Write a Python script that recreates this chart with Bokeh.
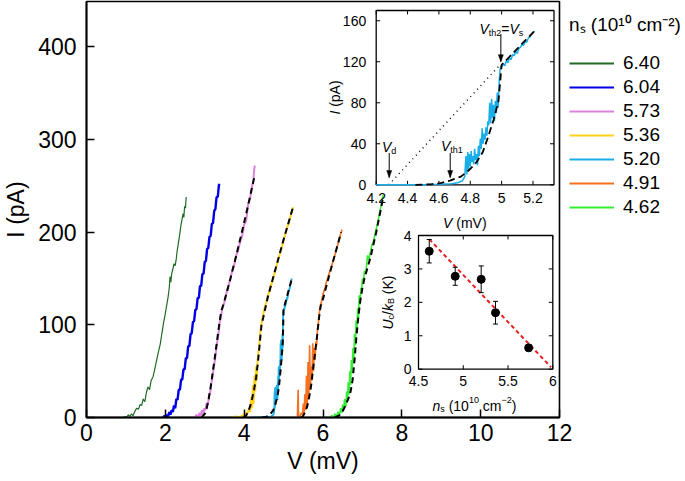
import math
from bokeh.plotting import figure
from bokeh.models import Range1d, Label, Legend, LegendItem
from bokeh.core.properties import value
from bokeh.embed import file_html
from bokeh.resources import INLINE

FONT = "Liberation Sans"

# ---------------- data ----------------
ns_labels = ["6.40", "6.04", "5.73", "5.36", "5.20", "4.91", "4.62"]
colors = ["#1f6b24", "#0000e6", "#dd82dd", "#ffd11a", "#19aee8", "#f5701f", "#33ee33"]
legend_title = "n\u209b (10\u00b9\u2070 cm\u207b\u00b2)"

v640 = [0.93, 0.98, 1.02, 1.06, 1.10, 1.14, 1.18, 1.22, 1.27, 1.32, 1.36, 1.40, 1.44, 1.48, 1.52, 1.56,
        1.60, 1.64, 1.69, 1.73, 1.78, 1.82, 1.87, 1.91, 1.95, 1.99, 2.03, 2.07, 2.10, 2.12, 2.14, 2.16,
        2.19, 2.22, 2.25, 2.28, 2.30, 2.33, 2.36, 2.39, 2.42, 2.45, 2.47, 2.49, 2.51, 2.53]
i640 = [0, 1, 0, 3, 1, 4, 2, 6, 10, 9, 14, 13, 20, 17, 27, 33,
        30, 40, 44, 52, 62, 70, 79, 90, 101, 110, 120, 130, 140, 152, 146, 155,
        160, 166, 164, 172, 180, 188, 196, 206, 213, 220, 216, 228, 226, 238]

v604 = [1.95, 1.98, 2.01, 2.04, 2.07, 2.10, 2.13, 2.16, 2.19, 2.22, 2.25, 2.28, 2.31, 2.34, 2.37, 2.40,
        2.43, 2.46, 2.49, 2.52, 2.55, 2.58, 2.61, 2.64, 2.67, 2.70, 2.73, 2.76, 2.79, 2.82, 2.85, 2.88,
        2.91, 2.94, 2.97, 3.00, 3.03, 3.06, 3.09, 3.12, 3.15, 3.18, 3.21, 3.24, 3.27, 3.30, 3.33, 3.36, 3.38]
i604 = [0, 2, 0, 3, 1, 6, 3, 8, 6, 13, 10, 20, 19, 30, 30, 41,
        41, 52, 52, 64, 64, 77, 77, 90, 91, 103, 104, 116, 117, 129, 129, 142,
        142, 155, 155, 168, 169, 182, 183, 195, 196, 209, 210, 223, 225, 238, 238, 251, 252]

v573 = [2.75, 2.79, 2.83, 2.87, 2.90, 2.93, 2.96, 2.99, 3.02, 3.05, 3.08, 3.11, 3.14, 3.17, 3.20, 3.23,
        3.26, 3.29, 3.32, 3.35, 3.38, 3.41, 3.44, 3.48, 3.52, 3.56, 3.60, 3.65, 3.70, 3.75, 3.80, 3.85,
        3.90, 3.95, 4.00, 4.05, 4.10, 4.15, 4.20, 4.23, 4.25, 4.27]
i573 = [0, 3, 0, 5, 2, 8, 3, 10, 8, 16, 14, 24, 27, 38, 45, 55,
        62, 73, 83, 90, 103, 108, 117, 122, 128, 136, 142, 150, 159, 165, 175, 181,
        190, 196, 208, 212, 230, 236, 250, 254, 266, 272]
v573_fit = [2.92, 3.00, 3.05, 3.10, 3.15, 3.20, 3.25, 3.30, 3.35, 3.40, 3.43, 3.50, 3.64, 3.80, 3.975, 4.10, 4.27]
i573_fit = [0, 4, 10, 20, 33, 48, 63, 79, 95, 110, 116, 126, 148, 175, 206, 229, 262]

v536 = [3.72, 3.80, 3.88, 3.95, 4.00, 4.04, 4.08, 4.12, 4.15, 4.18, 4.20, 4.22, 4.24, 4.26, 4.28, 4.30,
        4.32, 4.34, 4.36, 4.38, 4.40, 4.42, 4.44, 4.46, 4.50, 4.55, 4.60, 4.65, 4.70, 4.75, 4.80, 4.85,
        4.90, 4.95, 5.00, 5.05, 5.10, 5.15, 5.20, 5.24]
i536 = [0, 1, 0, 2, 3, 5, 4, 10, 6, 22, 10, 35, 15, 45, 28, 55,
        40, 62, 70, 76, 88, 95, 101, 106, 115, 123, 131, 138, 145, 153, 160, 168,
        176, 183, 191, 199, 206, 213, 221, 227]
v536_fit = [3.98, 4.05, 4.10, 4.15, 4.20, 4.25, 4.30, 4.35, 4.40, 4.44, 4.48, 4.60, 4.80, 5.00, 5.24]
i536_fit = [0, 2, 6, 12, 20, 30, 42, 60, 82, 100, 107, 130, 161, 192, 227]

v520 = [4.20, 4.30, 4.40, 4.50, 4.60, 4.68, 4.72, 4.75, 4.765, 4.772, 4.778, 4.784, 4.789, 4.795, 4.800,
        4.806, 4.810, 4.816, 4.822, 4.828, 4.834, 4.840, 4.846, 4.852, 4.858, 4.864, 4.870, 4.876, 4.882,
        4.888, 4.894, 4.900, 4.906, 4.912, 4.918, 4.924, 4.930, 4.936, 4.942, 4.948, 4.954, 4.960, 4.966,
        4.972, 4.978, 4.984, 4.990, 4.995, 5.000, 5.010, 5.020, 5.030, 5.040, 5.050, 5.060, 5.070, 5.080,
        5.090, 5.100, 5.110, 5.120, 5.130, 5.140, 5.150, 5.160, 5.170, 5.180, 5.190, 5.210]
i520 = [0, 0, 0, 0, 0.5, 1, 2, 4, 8, 28, 10, 32, 14, 30, 18,
        33, 22, 28, 20, 35, 24, 30, 19, 38, 28, 45, 35, 55, 40,
        50, 44, 56, 48, 62, 58, 80, 60, 84, 65, 78, 62, 82, 70,
        90, 75, 100, 112, 116, 115, 118, 116, 121, 119, 124, 122, 127, 126,
        130, 128, 133, 134, 137, 136, 140, 139, 143, 144, 147, 150]
v520_fit = [4.45, 4.55, 4.61, 4.67, 4.74, 4.79, 4.84, 4.88, 4.91, 4.95, 4.98, 4.995, 5.00, 5.21]
i520_fit = [0, 0.5, 1.6, 4, 8, 14, 22, 32, 45, 64, 82, 108, 117, 150]

v491 = [5.35, 5.37, 5.38, 5.42, 5.45, 5.48, 5.50, 5.52, 5.54, 5.56, 5.58, 5.60, 5.62, 5.64, 5.66, 5.68,
        5.70, 5.72, 5.74, 5.76, 5.78, 5.80, 5.82, 5.84, 5.86, 5.88, 5.90, 5.92, 5.94, 5.96, 6.00, 6.05,
        6.10, 6.15, 6.20, 6.25, 6.30, 6.35, 6.40, 6.44, 6.48]
i491 = [0, 30, 0, 2, 5, 3, 15, 4, 25, 8, 45, 12, 60, 20, 78, 30,
        55, 40, 80, 50, 75, 62, 82, 78, 95, 100, 110, 118, 122, 125, 133, 140,
        148, 155, 161, 168, 175, 183, 190, 197, 203]
v491_fit = [5.45, 5.50, 5.55, 5.60, 5.65, 5.70, 5.75, 5.80, 5.85, 5.90, 5.94, 6.00, 6.20, 6.46]
i491_fit = [0, 2, 6, 12, 22, 35, 53, 70, 88, 108, 120, 128, 160, 200]

v462 = [6.17, 6.22, 6.27, 6.30, 6.34, 6.38, 6.42, 6.45, 6.48, 6.50, 6.52, 6.55, 6.58, 6.60, 6.62, 6.64,
        6.66, 6.68, 6.70, 6.72, 6.74, 6.76, 6.78, 6.80, 6.82, 6.84, 6.86, 6.88, 6.90, 6.92, 6.94, 6.96,
        6.98, 7.00, 7.02, 7.05, 7.08, 7.10, 7.13, 7.16, 7.20, 7.24, 7.28, 7.32, 7.36, 7.40, 7.44, 7.48, 7.52]
i462 = [0, 2, 0, 4, 1, 6, 3, 10, 5, 14, 8, 20, 12, 28, 18, 38,
        25, 50, 35, 62, 48, 75, 60, 90, 78, 105, 95, 118, 108, 132, 122, 140,
        138, 150, 144, 158, 155, 162, 175, 170, 178, 186, 190, 198, 205, 213, 222, 230, 240]
v462_fit = [6.30, 6.40, 6.45, 6.50, 6.55, 6.60, 6.65, 6.70, 6.75, 6.80, 6.85, 6.90, 6.95, 7.00, 7.05, 7.20, 7.35, 7.52]
i462_fit = [0, 2, 4, 7, 11, 16, 21, 28, 40, 62, 88, 110, 127, 140, 150, 172, 200, 236]

main_xlim = 12
main_xticks = [0, 2, 4, 6, 8, 10, 12]
main_yticks = [0, 100, 200, 300, 400]

# inset 1 (V-I of the 5.20 curve)
in1_xticks = [4.2, 4.4, 4.6, 4.8, 5.0, 5.2]
in1_xlabels = ["4.2", "4.4", "4.6", "4.8", "5", "5.2"]
in1_yticks = [0, 40, 80, 120, 160]
dot_v = [4.28, 4.99]
dot_i = [0, 117]
arrow_v = [4.283, 4.672, 4.995]
arrow_tail = [31, 31, 147]
arrow_tip = [7, 7, 120]

# inset 2 (Uc/kB vs ns)
ns_pts = [4.62, 4.91, 5.20, 5.36, 5.73]
uc_pts = [3.53, 2.78, 2.69, 1.69, 0.64]
uc_err = [0.35, 0.27, 0.40, 0.34, 0.09]
ns_fit = [4.62, 5.98]
uc_fit = [3.89, 0.06]
in2_xticks = [4.5, 5.0, 5.5, 6.0]
in2_xlabels = ["4.5", "5", "5.5", "6"]
in2_yticks = [0, 1, 2, 3, 4]

# ---------------- geometry helpers ----------------
W, H = 685, 481
FL, FT = 83, 1
FB = 417                      # frame bottom (px)
FW = 473                      # frame = the main axes box (0..12 mV)
FH = FB - FT
PXX = FW / 12.0               # px per mV
PXY = 0.9265                  # px per pA
Y_END = FH / PXY


def dx(px):
    return (px - FL) / PXX


def dy(py):
    return (FB - py) / PXY


ADV = {'0': 556, '1': 556, '2': 556, '3': 556, '4': 556, '5': 556, '6': 556, '7': 556, '8': 556, '9': 556,
       '.': 278, ' ': 278, '(': 333, ')': 333, 'n': 556, 's': 500, 'c': 500, 'm': 833, '\u2212': 584,
       '=': 584, 'V': 667, 't': 278, 'h': 556, 'd': 556, 'U': 722, 'k': 500, 'B': 667, '/': 278,
       'K': 667, 'I': 278, 'p': 556, 'A': 667}


def tw(s, size):
    return sum(ADV.get(ch, 556) for ch in s) * size / 1000.0


p = figure(frame_width=FW, frame_height=FH, x_range=Range1d(0, main_xlim), y_range=Range1d(0, Y_END),
           output_backend="svg", toolbar_location=None,
           min_border_left=FL, min_border_right=W - FL - FW, min_border_top=FT, min_border_bottom=H - FB)
p.grid.visible = False
p.outline_line_color = "black"
p.outline_line_alpha = 1
p.outline_line_width = 1.6

for ax in (p.xaxis[0], p.yaxis[0]):
    ax.major_tick_in = 8
    ax.major_tick_out = 0
    ax.minor_tick_in = 0
    ax.minor_tick_out = 0
    ax.axis_line_width = 1.8
    ax.major_tick_line_width = 1.5
    ax.major_label_text_font = FONT
    ax.major_label_text_font_size = "23px"
    ax.major_label_text_color = "black"
    ax.axis_label_text_font = FONT
    ax.axis_label_text_font_size = "23px"
    ax.axis_label_text_font_style = "normal"
    ax.axis_label_text_color = "black"
p.xaxis.ticker = main_xticks
p.yaxis.ticker = main_yticks
p.xaxis.major_label_standoff = 6
p.yaxis.major_label_standoff = 10
p.xaxis.axis_label = "V (mV)"
p.yaxis.axis_label = "I (pA)"
p.xaxis.axis_label_standoff = 4
p.yaxis.axis_label_standoff = 6


def rich(pieces, x0, y0, rotate=False):
    pos = y0 if rotate else x0
    for text, size, style, shift in pieces:
        lead = len(text) - len(text.lstrip(" "))
        if lead:
            adv0 = tw(" " * lead, size)
            pos = pos - adv0 if rotate else pos + adv0
            text = text.lstrip(" ")
        if rotate:
            lx, ly = dx(x0 - shift), dy(pos)
        else:
            lx, ly = dx(pos), dy(y0 - shift)
        p.add_layout(Label(x=lx, y=ly, text=text, angle=(math.pi / 2 if rotate else 0),
                           text_font=FONT, text_font_size=f"{size}px", text_font_style=style,
                           text_baseline="alphabetic", text_align="left", text_color="black"))
        adv = tw(text, size)
        pos = pos - adv if rotate else pos + adv


# ---------------- main curves ----------------
curves = [(v640, i640, 1.2), (v604, i604, 2.4), (v573, i573, 2.0), (v536, i536, 2.0),
          (v520, i520, 1.8), (v491, i491, 1.6), (v462, i462, 1.6)]
swatches = []
for (vx, iy, lw), col in zip(curves, colors):
    p.line(vx, iy, line_color=col, line_width=lw)
    # hidden one-point copy of each series: gives the legend a uniform 2px swatch
    swatches.append(p.line(vx[:1], iy[:1], line_color=col, line_width=2, visible=False))

for fx, fy in [(v573_fit, i573_fit), (v536_fit, i536_fit), (v520_fit, i520_fit),
               (v491_fit, i491_fit), (v462_fit, i462_fit)]:
    p.line(fx, fy, line_color="black", line_width=2.0, line_dash="6 4")

# legend in the right-hand panel (outside the axes box)
legend = Legend(items=[LegendItem(label=lab, renderers=[r]) for lab, r in zip(ns_labels, swatches)],
                location=(10, 198), orientation="vertical",
                title=legend_title, title_text_font=FONT, title_text_font_size="19px",
                title_text_font_style="normal", title_text_color="black", title_standoff=14,
                background_fill_alpha=0, border_line_alpha=0, padding=0, margin=0, spacing=0,
                glyph_width=45, glyph_height=24, label_height=24, label_standoff=9,
                inactive_fill_alpha=0, click_policy="none",
                label_text_font=FONT, label_text_font_size="19px", label_text_color="black")
p.add_layout(legend, "right")

# ---------------- inset 1 ----------------
x1s, y1s = Range1d(4.2, 5.334), Range1d(0, 170)
s1 = p.subplot(x_source=x1s, y_source=y1s,
               x_target=Range1d(dx(372.7), dx(550.5)), y_target=Range1d(dy(184.3), dy(10)))
s1.quad(left=[x1s.start], right=[x1s.end], bottom=[y1s.start], top=[y1s.end],
        fill_color="white", line_color="black", line_width=1.3)
tl1x = 4 * (x1s.end - x1s.start) / (550.5 - 372.7)
tl1y = 4 * (y1s.end - y1s.start) / (184.3 - 10)
n = len(in1_xticks)
s1.segment(x0=in1_xticks, y0=[y1s.start] * n, x1=in1_xticks, y1=[y1s.start + tl1y] * n, line_color="black", line_width=1)
s1.segment(x0=in1_xticks, y0=[y1s.end] * n, x1=in1_xticks, y1=[y1s.end - tl1y] * n, line_color="black", line_width=1)
m = len(in1_yticks)
s1.segment(x0=[x1s.start] * m, y0=in1_yticks, x1=[x1s.start + tl1x] * m, y1=in1_yticks, line_color="black", line_width=1)
s1.segment(x0=[x1s.end] * m, y0=in1_yticks, x1=[x1s.end - tl1x] * m, y1=in1_yticks, line_color="black", line_width=1)
s1.text(x=in1_xticks, y=[y1s.start] * n, text=in1_xlabels, text_align="center", text_baseline="top",
        y_offset=8, text_font=value(FONT), text_font_size="14px", text_color="black")
s1.text(x=[x1s.start] * m, y=in1_yticks, text=[str(t) for t in in1_yticks], text_align="right",
        text_baseline="middle", x_offset=-10, text_font=value(FONT), text_font_size="14px", text_color="black")

s1.line(dot_v, dot_i, line_color="black", line_width=1.4, line_dash="1 4")
s1.line(v520, i520, line_color=colors[4], line_width=1.5)
s1.line(v520_fit, i520_fit, line_color="black", line_width=1.8, line_dash="7 4")
s1.segment(x0=arrow_v, y0=arrow_tail, x1=arrow_v, y1=arrow_tip, line_color="black", line_width=1)
hw, hh = 2.5 * tl1x / 4, 7 * tl1y / 4
s1.patches(xs=[[a - hw, a + hw, a] for a in arrow_v],
           ys=[[t + hh, t + hh, t] for t in arrow_tip], fill_color="black", line_color="black", line_width=0.5)

rich([("V", 14, "italic", 0), ("th2", 9, "normal", -4), ("=", 14, "normal", 0),
      ("V", 14, "italic", 0), ("s", 9, "normal", -4)], 476, 28)
rich([("V", 14, "italic", 0), ("d", 9, "normal", -4)], 378.5, 146.5)
rich([("V", 14, "italic", 0), ("th1", 9, "normal", -4)], 437.5, 145)
rich([("V", 14, "italic", 0), (" (mV)", 14, "normal", 0)],
     461.3 - (tw("V", 14) + tw(" (mV)", 14)) / 2, 222)
rich([("I", 14, "italic", 0), (" (pA)", 14, "normal", 0)],
     331, 97 + (tw("I", 14) + tw(" (pA)", 14)) / 2, rotate=True)

# ---------------- inset 2 ----------------
x2s, y2s = Range1d(4.5, 6.0), Range1d(0, 4)
s2 = p.subplot(x_source=x2s, y_source=y2s,
               x_target=Range1d(dx(415), dx(549.3)), y_target=Range1d(dy(368.7), dy(235)))
s2.quad(left=[x2s.start], right=[x2s.end], bottom=[y2s.start], top=[y2s.end],
        fill_color="white", line_color="black", line_width=1.3)
tl2x = 4 * (x2s.end - x2s.start) / (549.3 - 415)
tl2y = 4 * (y2s.end - y2s.start) / (368.7 - 235)
n2 = len(in2_xticks)
m2 = len(in2_yticks)
s2.segment(x0=in2_xticks, y0=[y2s.start] * n2, x1=in2_xticks, y1=[y2s.start + tl2y] * n2, line_color="black", line_width=1)
s2.segment(x0=in2_xticks, y0=[y2s.end] * n2, x1=in2_xticks, y1=[y2s.end - tl2y] * n2, line_color="black", line_width=1)
s2.segment(x0=[x2s.start] * m2, y0=in2_yticks, x1=[x2s.start + tl2x] * m2, y1=in2_yticks, line_color="black", line_width=1)
s2.segment(x0=[x2s.end] * m2, y0=in2_yticks, x1=[x2s.end - tl2x] * m2, y1=in2_yticks, line_color="black", line_width=1)
s2.text(x=in2_xticks, y=[y2s.start] * n2, text=in2_xlabels, text_align="center", text_baseline="top",
        y_offset=7, text_font=value(FONT), text_font_size="14px", text_color="black")
s2.text(x=[x2s.start] * m2, y=in2_yticks, text=[str(t) for t in in2_yticks], text_align="right",
        text_baseline="middle", x_offset=-7, text_font=value(FONT), text_font_size="14px", text_color="black")

s2.line(ns_fit, uc_fit, line_color="#e8201e", line_width=2, line_dash="4 3")
lo = [u - e for u, e in zip(uc_pts, uc_err)]
hi = [u + e for u, e in zip(uc_pts, uc_err)]
s2.segment(x0=ns_pts, y0=lo, x1=ns_pts, y1=hi, line_color="black", line_width=1)
s2.scatter(ns_pts, lo, marker="dash", size=5, line_color="black", line_width=1)
s2.scatter(ns_pts, hi, marker="dash", size=5, line_color="black", line_width=1)
s2.scatter(ns_pts, uc_pts, marker="circle", size=8, fill_color="black", line_color="black")

rich([("n", 14, "italic", 0), ("s", 9, "normal", -3), (" (10", 14, "normal", 0),
      ("10", 9, "normal", 6), (" cm", 14, "normal", 0), ("\u22122", 9, "normal", 6),
      (")", 14, "normal", 0)], 429, 405)
uc_pieces = [("U", 14, "italic", 0), ("c", 9, "normal", -3), ("/", 14, "normal", 0),
             ("k", 14, "italic", 0), ("B", 9, "normal", -3), (" (K)", 14, "normal", 0)]
rich(uc_pieces, 384, 302 + sum(tw(t, s) for t, s, _, _ in uc_pieces) / 2, rotate=True)

open("out.html", "w").write(file_html(p, INLINE))
